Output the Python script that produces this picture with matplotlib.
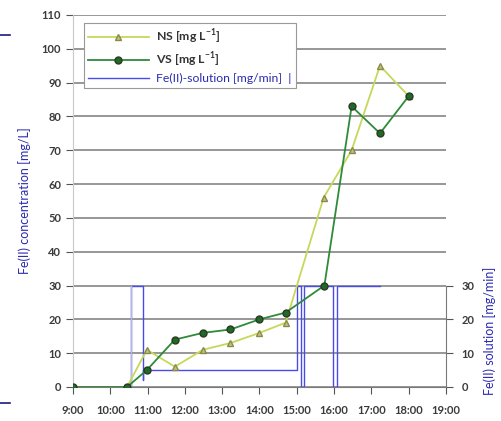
import matplotlib
matplotlib.use("Agg")
import matplotlib.pyplot as plt
from matplotlib.lines import Line2D

plt.rcParams['font.family'] = ['Lato', 'DejaVu Sans']

# ---- data ----
hour_ticks = list(range(9, 20))
hour_labels = [f"{h}:00" for h in hour_ticks]

ns_time = [9.0, 10.45, 10.98, 11.73, 12.48, 13.22, 14.0, 14.7, 15.72, 16.47, 17.23, 18.0]
ns_vals = [0, 0, 11, 6, 11, 13, 16, 19, 56, 70, 95, 86]

vs_time = [9.0, 10.45, 10.98, 11.73, 12.48, 13.22, 14.0, 14.7, 15.74, 16.47, 17.23, 18.0]
vs_vals = [0, 0, 5, 14, 16, 17, 20, 22, 30, 83, 75, 86]

fe_time = [10.55, 10.55, 10.87, 10.87, 10.87, 15.0, 15.0, 15.12, 15.12, 15.18, 15.18,
           15.98, 15.98, 16.09, 16.09, 17.24]
fe_vals = [0, 30, 30, 2, 5, 5, 30, 30, 0, 0, 30, 30, 0, 0, 30, 30]

left_ticks = list(range(0, 111, 10))
right_ticks = [0, 10, 20, 30]

# ---- figure ----
fig = plt.figure(figsize=(5.01, 4.21), dpi=100)
ax = fig.add_axes([0.1457, 0.0808, 0.7445, 0.8836])
ax.set_xlim(9, 19)
ax.set_ylim(0, 110)

tick_col = '#3a3a3a'
for y in left_ticks:
    ax.axhline(y, color='#7a7a7a', lw=1.1, zorder=1)

ax.set_yticks(left_ticks)
ax.set_xticks(hour_ticks)
ax.set_xticklabels(hour_labels)
ax.tick_params(axis='both', direction='out', length=5, color='#555555',
               labelsize=8, labelcolor=tick_col, width=0.8)
for lab in ax.get_xticklabels() + ax.get_yticklabels():
    lab.set_fontweight('bold')
ax.tick_params(axis='x', pad=8)

for s in ['top', 'right']:
    ax.spines[s].set_visible(False)
ax.spines['left'].set_color('#c8c8c8')
ax.spines['bottom'].set_color('#7a7a7a')

ax.set_ylabel('Fe(II) concentration [mg/L]', color='#2b2bb0', fontsize=9, labelpad=8)

# Fe solution
fe_line, = ax.plot(fe_time, fe_vals, color='#4a4ae8', lw=1.0, zorder=2)
ax.plot(fe_time[:2], fe_vals[:2], color='#b8b8e8', lw=1.0, zorder=2)

vs_line, = ax.plot(vs_time, vs_vals, color='#2f8a3a', lw=1.3, marker='o', ms=5,
                   mfc='#1f6a28', mec='#2a3a20', zorder=4)
ns_line, = ax.plot(ns_time, ns_vals, color='#c6d85a', lw=1.3, marker='^', ms=5,
                   mfc='#c2c27a', mec='#8a8a4a', zorder=3)

# right axis
ax2 = ax.twinx()
ax2.set_ylim(0, 110)
ax2.set_yticks(right_ticks)
ax2.spines['right'].set_bounds(0, 30)
ax2.spines['right'].set_color('#7a7a7a')
for s in ['top', 'left', 'bottom']:
    ax2.spines[s].set_visible(False)
ax2.tick_params(axis='y', direction='out', length=5, color='#555555',
                labelsize=8, labelcolor=tick_col, pad=6)
for lab in ax2.get_yticklabels():
    lab.set_fontweight('bold')
fig.text(0.978, 0.215, 'Fe(II) solution [mg/min]', rotation=90, color='#2b2bb0',
         fontsize=9, ha='center', va='center')

# legend
leg = ax.legend([ns_line, vs_line, fe_line],
                ['NS [mg L$^{\\mathregular{-1}}$]', 'VS [mg L$^{\\mathregular{-1}}$]',
                 'Fe(II)-solution [mg/min]  |'],
                loc='upper left', bbox_to_anchor=(0.012, 0.995), fontsize=8.8,
                frameon=True, fancybox=False, edgecolor='#999999', framealpha=1,
                handlelength=5.0, borderpad=0.35, labelspacing=0.3, handletextpad=0.6)
leg.get_frame().set_linewidth(0.8)
texts = leg.get_texts()
texts[0].set_color('#333333'); texts[0].set_fontweight('bold')
texts[1].set_color('#333333'); texts[1].set_fontweight('bold')
texts[2].set_color('#2b2bb0')

# artifact marks at left edge
fig.add_artist(Line2D([0, 0.02], [1 - 35 / 421, 1 - 35 / 421], color='#1a1a80', lw=1.2))
fig.add_artist(Line2D([0, 0.02], [1 - 403 / 421, 1 - 403 / 421], color='#1a1a80', lw=1.2))

fig.savefig('out.png', dpi=100)
